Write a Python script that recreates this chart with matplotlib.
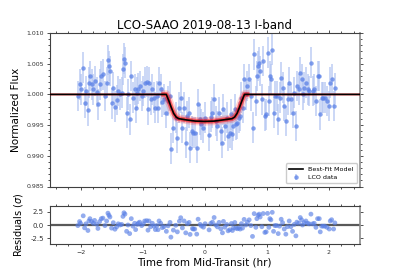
import matplotlib
matplotlib.use("Agg")
import matplotlib.pyplot as plt
from matplotlib.ticker import AutoMinorLocator, MultipleLocator
import numpy as np

# ---- data ----
time_hr = [
    -2.043, -2.016, -2.000, -1.957, -1.935, -1.914, -1.881, -1.865, -1.849, -1.822,
    -1.795, -1.774, -1.742, -1.720, -1.693, -1.666, -1.640, -1.607, -1.580, -1.559,
    -1.543, -1.527, -1.500, -1.473, -1.446, -1.419, -1.392, -1.365, -1.338, -1.317,
    -1.301, -1.285, -1.258, -1.236, -1.209, -1.183, -1.156, -1.129, -1.113, -1.086,
    -1.070, -1.048, -1.016, -0.989, -0.967, -0.935, -0.914, -0.898, -0.871, -0.844,
    -0.817, -0.795, -0.774, -0.752, -0.736, -0.709, -0.683, -0.656, -0.618, -0.591,
    -0.559, -0.545, -0.505, -0.467, -0.441, -0.408, -0.387, -0.360, -0.333, -0.306,
    -0.279, -0.252, -0.236, -0.199, -0.183, -0.161, -0.129, -0.107, -0.075, -0.053,
    -0.021, 0.006,
    0.070, 0.097, 0.124, 0.151, 0.177, 0.204, 0.231, 0.258, 0.285, 0.301,
    0.323, 0.355, 0.376, 0.403, 0.430, 0.446, 0.462, 0.484, 0.500, 0.527,
    0.548, 0.570, 0.591, 0.608, 0.634, 0.661, 0.688, 0.715, 0.742, 0.769,
    0.796, 0.823, 0.839, 0.860, 0.876, 0.892, 0.919, 0.941, 0.968, 0.989,
    1.011, 1.032, 1.048, 1.065, 1.087, 1.108, 1.129, 1.156, 1.183, 1.204,
    1.231, 1.253, 1.280, 1.306, 1.333, 1.360, 1.387, 1.414, 1.441, 1.468,
    1.484, 1.511, 1.538, 1.559, 1.575, 1.602, 1.629, 1.656, 1.683, 1.710,
    1.737, 1.763, 1.790, 1.817, 1.844, 1.860, 1.882, 1.909, 1.935, 1.968,
    2.005, 2.021, 2.043, 2.075, 2.095,
]
flux = [
    0.99973, 1.00163, 1.00081, 1.00434, 0.99864, 1.00054, 0.99739, 1.00190, 1.00299, 1.00163,
    1.00081, 1.00217, 1.00038, 0.99837, 1.00163, 1.00299, 1.00326, 0.99973, 1.00190, 1.00559,
    1.00462, 1.00380, 0.99853, 1.00109, 0.99799, 0.99908, 1.00054, 1.00000, 1.00027, 1.00407,
    1.00581, 1.00516, 0.99701, 1.00000, 0.99593, 1.00299, 0.99946, 1.00081, 0.99783, 1.00027,
    1.00092, 1.00136, 0.99973, 1.00054, 1.00190, 1.00206, 0.99756, 1.00190, 0.99919, 1.00081,
    0.99946, 0.99783, 0.99973, 0.99777, 1.00190, 1.00081, 0.99875, 0.99919, 0.99701, 0.99891,
    0.99973, 0.99115, 0.99457, 0.99620, 0.99294, 0.99783, 0.99946, 0.99457, 0.99783, 0.99213,
    0.99647, 0.99701, 0.99131, 0.99403, 0.99376, 0.99376, 0.99131, 0.99837, 0.99593, 0.99511,
    0.99457, 0.99620,
    0.99332, 0.99636, 0.99701, 0.99919, 0.99566, 0.99484, 0.99701, 0.99403, 0.99213, 0.99756,
    0.99484, 0.99620, 0.99321, 0.99376, 0.99674, 0.99348, 0.99484, 0.99756, 0.99511, 0.99528,
    0.99620, 0.99647, 0.99946, 0.99783, 1.00244, 1.00000, 1.00136, 1.00244, 0.99973, 0.99460,
    1.00652, 0.99891, 1.00299, 1.00462, 1.00516, 1.00380, 0.99919, 1.00543, 0.99647, 0.99674,
    1.00679, 0.99891, 1.00299, 1.00244, 1.00730, 0.99701, 0.99973, 0.99973, 0.99593, 0.99946,
    1.00272, 1.00109, 0.99810, 0.99566, 0.99919, 1.00190, 0.99919, 0.99701, 1.00027, 0.99484,
    1.00136, 1.00081, 1.00353, 1.00244, 1.00000, 1.00109, 1.00190, 1.00081, 1.00054, 1.00516,
    1.00054, 1.00081, 0.99891, 1.00299, 1.00299, 0.99674, 0.99946, 0.99946, 0.99946, 0.99891,
    0.99810, 1.00190, 1.00250, 0.99810, 1.00100,
]
flux_err = 0.0025

residuals = [
    -0.11, 0.65, 0.32, 1.74, -0.54, 0.22, -1.04, 0.76, 1.20, 0.65,
    0.32, 0.87, 0.15, -0.65, 0.65, 1.20, 1.30, -0.11, 0.76, 2.24,
    1.85, 1.52, -0.59, 0.44, -0.80, -0.37, 0.22, 0.00, 0.11, 1.63,
    2.32, 2.06, -1.20, 0.00, -1.63, 1.20, -0.22, 0.32, -0.87, 0.11,
    0.37, 0.54, -0.11, 0.22, 0.76, 0.82, -0.98, 0.76, -0.32, 0.32,
    -0.22, -0.87, -0.11, -0.89, 0.76, 0.32, -0.50, -0.32, -1.20, -0.16,
    0.49, -2.30, -0.97, -0.06, -1.30, 0.72, 1.38, -0.55, 0.77, -1.49,
    0.26, 0.49, -1.78, -0.67, -0.77, -0.76, -1.73, 1.10, 0.12, -0.20,
    -0.41, 0.24,
    -0.92, 0.30, 0.55, 1.42, -0.01, -0.35, 0.50, -0.71, -1.48, 0.68,
    -0.42, 0.10, -1.10, -0.90, 0.28, -1.04, -0.54, 0.48, -0.60, -0.71,
    -0.56, -0.77, 0.26, -0.59, 1.06, 0.00, 0.54, 0.98, -0.11, -2.16,
    2.15, -0.44, 1.20, 1.85, 2.06, 1.52, -0.32, 2.17, -1.41, -1.30,
    2.20, -0.44, 1.20, 0.98, 2.40, -1.20, -0.11, -0.11, -1.63, -0.22,
    1.09, 0.44, -0.76, -1.74, -0.32, 0.76, -0.32, -1.20, 0.11, -2.06,
    0.54, 0.32, 1.41, 0.98, 0.00, 0.44, 0.76, 0.32, 0.22, 2.06,
    0.22, 0.32, -0.44, 1.20, 1.20, -1.30, -0.22, -0.22, -0.22, -0.44,
    -0.76, 0.76, 1.00, -0.76, 0.40,
]

model_time = [-2.6, -0.62, -0.58, -0.54, -0.50, -0.46, -0.42, -0.30, -0.15, 0.0,
              0.15, 0.30, 0.44, 0.48, 0.52, 0.56, 0.60, 0.64, 2.6]
model_flux = [1.0, 1.0, 0.9990, 0.9979, 0.9969, 0.9963, 0.99605, 0.99585, 0.99565, 0.9956,
              0.99565, 0.99585, 0.99605, 0.9963, 0.9969, 0.9979, 0.9990, 1.0, 1.0]
# posterior-sample band (only visible around the transit)
band_time = [-0.70, -0.62, -0.58, -0.54, -0.50, -0.46, -0.42, -0.30, -0.15, 0.0,
             0.15, 0.30, 0.44, 0.48, 0.52, 0.56, 0.60, 0.64, 0.72]
band_flux = [1.0, 1.0, 0.9990, 0.9979, 0.9969, 0.9963, 0.99605, 0.99585, 0.99565, 0.9956,
             0.99565, 0.99585, 0.99605, 0.9963, 0.9969, 0.9979, 0.9990, 1.0, 1.0]

title = "LCO-SAAO 2019-08-13 I-band"

# ---- figure ----
W, H = 399, 279
fig = plt.figure(figsize=(W / 100, H / 100), dpi=100)

ax = fig.add_axes([49.5 / W, (H - 186.5) / H, (360 - 49.5) / W, (186.5 - 33) / H])
axr = fig.add_axes([49.5 / W, (H - 244) / H, (360 - 49.5) / W, (244 - 206) / H])

pt_color = "#5a80e6"
bar_color = "#b4c6f2"

ax.errorbar(time_hr, flux, yerr=flux_err, fmt="o", ms=3.2, color=pt_color,
            mec="none", alpha=0.75, ecolor=bar_color, elinewidth=1.3, capsize=0,
            label="LCO data", zorder=2)
ax.plot(model_time, model_flux, color="red", lw=2.0, alpha=0.35, zorder=3)
ax.plot(band_time, band_flux, color="red", lw=6, alpha=0.18, zorder=3,
        solid_capstyle="butt")
ax.plot(band_time, band_flux, color="red", lw=3.5, alpha=0.45, zorder=3,
        solid_capstyle="butt")
ax.plot(model_time, model_flux, color="black", lw=1.2, zorder=4, label="Best-Fit Model")

ax.set_xlim(-2.5, 2.5)
ax.set_ylim(0.985, 1.010)
ax.yaxis.set_major_locator(MultipleLocator(0.005))
ax.set_ylabel("Normalized Flux", fontsize=7.5)
ax.set_title(title, fontsize=8.5, pad=3)
ax.tick_params(labelbottom=False)

h, l = ax.get_legend_handles_labels()
order = [l.index("Best-Fit Model"), l.index("LCO data")]
ax.legend([h[i] for i in order], [l[i] for i in order], loc="lower right",
          fontsize=4.6, frameon=True, framealpha=1, edgecolor="0.8",
          borderpad=0.5, handlelength=2.2, labelspacing=0.4, fancybox=True)

axr.scatter(time_hr, residuals, s=12, color=pt_color, alpha=0.65, edgecolors="none", zorder=3)
axr.axhline(0, color="0.35", lw=1.6, zorder=2)
axr.set_xlim(-2.5, 2.5)
axr.set_ylim(-3.6, 3.6)
axr.set_yticks([-2.5, 0.0, 2.5])
axr.set_yticklabels(["-2.5", "0.0", "2.5"])
axr.set_ylabel("Residuals ($\\sigma$)", fontsize=7)
axr.set_xlabel("Time from Mid-Transit (hr)", fontsize=7.5, labelpad=2)

for a in (ax, axr):
    a.xaxis.set_major_locator(MultipleLocator(1))
    a.xaxis.set_minor_locator(AutoMinorLocator(5))
    a.yaxis.set_minor_locator(AutoMinorLocator(5))
    a.tick_params(which="both", direction="out", top=True, right=True,
                  labelsize=4.5, colors="0.2", width=0.6)
    a.tick_params(which="major", length=2.5, pad=1.5)
    a.tick_params(which="minor", length=1.3)
    for s in a.spines.values():
        s.set_color("0.25")
        s.set_linewidth(0.8)
    a.spines["right"].set_color("0.55")
    a.spines["right"].set_linewidth(1.2)

axr.tick_params(axis="y", which="minor", left=False, right=False)
axr.tick_params(axis="y", labelsize=5)

fig.savefig("out.png", dpi=100)
